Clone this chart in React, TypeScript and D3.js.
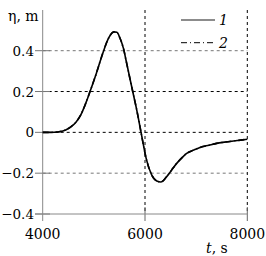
import React from "react";
import * as d3 from "d3";

const times = [4000, 4150, 4300, 4450, 4550, 4650, 4750, 4850, 4925, 5050, 5185, 5285, 5390, 5450, 5510, 5580, 5640, 5700, 5760, 5830, 5870, 5930, 6030, 6130, 6230, 6310, 6420, 6520, 6620, 6720, 6815, 6950, 7075, 7250, 7400, 7550, 7730, 7870, 8000];
const series1 = [0, 0.0, 0.002, 0.012, 0.027, 0.05, 0.088, 0.148, 0.2, 0.29, 0.395, 0.46, 0.492, 0.49, 0.462, 0.41, 0.34, 0.27, 0.2, 0.12, 0.07, -0.01, -0.135, -0.208, -0.238, -0.243, -0.218, -0.185, -0.152, -0.125, -0.103, -0.087, -0.074, -0.063, -0.054, -0.048, -0.042, -0.038, -0.034];
const series2 = series1;
const xTicks = [4000, 6000, 8000];
const yTicks = [-0.4, -0.2, 0, 0.2, 0.4];
const legendLabels = ["1", "2"];

const FONT = "DejaVu Serif";

export default function App() {
  const x = d3.scaleLinear().domain([4000, 8000]).range([42.7, 247.3]);
  const y = d3.scaleLinear().domain([-0.4, 0.4]).range([214, 50.7]);
  const top = 10;
  const line = d3
    .line<number>()
    .x((_, i) => x(times[i]))
    .y((d) => y(d))
    .curve(d3.curveMonotoneX);
  const gridColor = (v: number) => (Math.abs(v - 0.4) < 1e-6 || Math.abs(v + 0.2) < 1e-6 ? "#777" : "#000");
  const fmt = (v: number) => (v === 0 ? "0" : (v < 0 ? "\u2212" : "") + Math.abs(v).toFixed(1));
  const T = (props: any) => <text fontFamily={FONT} fontSize={14} fill="#000" {...props} />;
  return (
    <svg width={266} height={256} style={{ position: "absolute", left: 0, top: 0 }}>
      {yTicks.filter((v) => v > -0.4).map((v) => (
        <line key={"h" + v} x1={42.7} x2={247.3} y1={y(v)} y2={y(v)} stroke={gridColor(v)} strokeWidth={1} strokeDasharray="3,3" />
      ))}
      {xTicks.filter((v) => v > 4000).map((v) => (
        <g key={"v" + v}>
          <line x1={x(v)} x2={x(v)} y1={top} y2={214} stroke="#000" strokeWidth={1} strokeDasharray="3,3" />
          <line x1={x(v)} x2={x(v)} y1={207} y2={221} stroke="#666" strokeWidth={1} />
        </g>
      ))}
      {yTicks.map((v) => (
        <line key={"yt" + v} x1={35} x2={50} y1={y(v)} y2={y(v)} stroke="#777" strokeWidth={1} />
      ))}
      <line x1={x(4000)} x2={x(4000)} y1={top} y2={221} stroke="#888" strokeWidth={1} />
      <line x1={35} x2={247.3} y1={214} y2={214} stroke="#888" strokeWidth={1} />
      <path d={line(series2) || ""} fill="none" stroke="#000" strokeWidth={1.6} strokeDasharray="6,3,1,3" />
      <path d={line(series1) || ""} fill="none" stroke="#000" strokeWidth={1.6} />
      {yTicks.map((v) => (
        <T key={"yl" + v} x={34} y={y(v) + 5} fontSize={13.5} textAnchor="end">
          {fmt(v)}
        </T>
      ))}
      {xTicks.map((v) => (
        <T key={"xl" + v} x={x(v)} y={239} textAnchor="middle">
          {v}
        </T>
      ))}
      <T x={8} y={21}>η, m</T>
      <T x={206} y={253}>
        <tspan fontStyle="italic">t</tspan>, s
      </T>
      <line x1={181} x2={215} y1={20} y2={20} stroke="#666" strokeWidth={1.6} />
      <T x={219} y={25} fontStyle="italic">{legendLabels[0]}</T>
      <line x1={181} x2={215} y1={42.7} y2={42.7} stroke="#000" strokeWidth={1} strokeDasharray="6,3,1,3" />
      <T x={219} y={48} fontStyle="italic">{legendLabels[1]}</T>
    </svg>
  );
}
